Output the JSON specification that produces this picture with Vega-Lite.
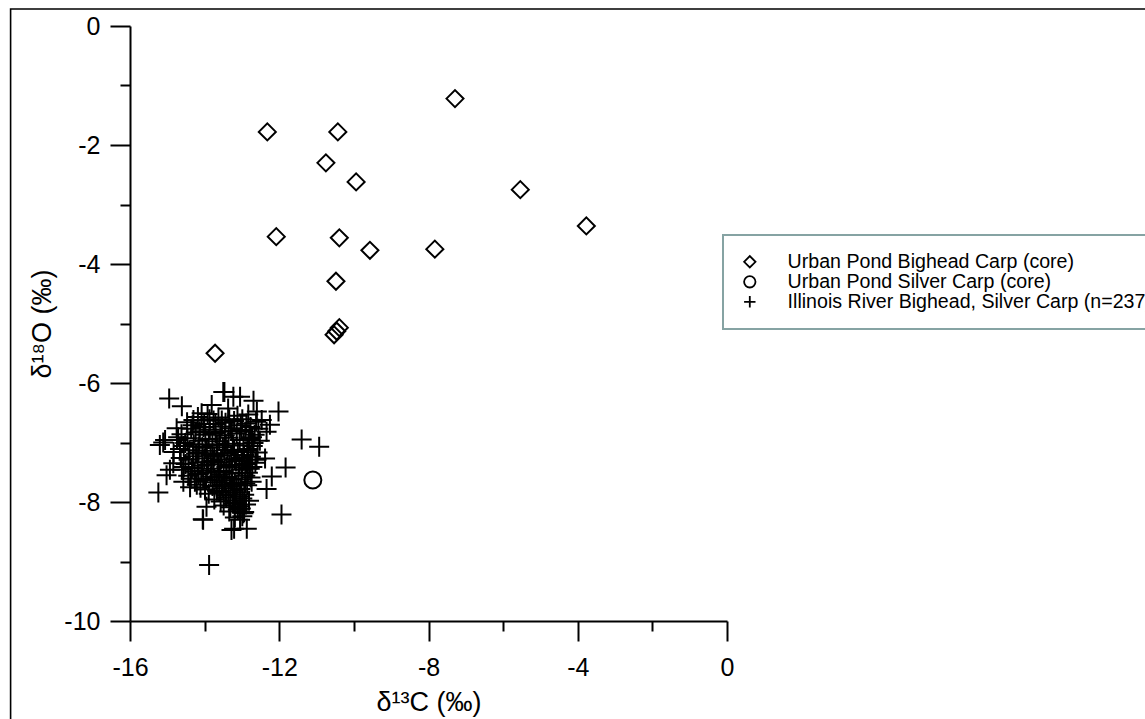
{
"$schema": "https://vega.github.io/schema/vega-lite/v6.json",
"width": 597,
"height": 595,
"autosize": {"type": "none"},
"padding": {"left": 130, "top": 26, "right": 418, "bottom": 98},
"background": "white",
"config": {
  "view": {"stroke": null},
  "font": "Liberation Sans",
  "legend": {"strokeColor": "#86a3a3", "strokeWidth": 2, "padding": 17, "labelFontSize": 19.6, "labelColor": "black", "labelOffset": 28, "labelLimit": 1000, "symbolSize": 130, "symbolStrokeWidth": 1.8, "symbolStrokeColor": "black", "symbolFillColor": "transparent", "symbolOpacity": 1}
},
"data": {"values": [
{"group":"Urban Pond Bighead Carp (core)","d13C":-7.29,"d18O":-1.22},
{"group":"Urban Pond Bighead Carp (core)","d13C":-12.32,"d18O":-1.78},
{"group":"Urban Pond Bighead Carp (core)","d13C":-10.43,"d18O":-1.78},
{"group":"Urban Pond Bighead Carp (core)","d13C":-10.75,"d18O":-2.30},
{"group":"Urban Pond Bighead Carp (core)","d13C":-9.94,"d18O":-2.62},
{"group":"Urban Pond Bighead Carp (core)","d13C":-5.54,"d18O":-2.75},
{"group":"Urban Pond Bighead Carp (core)","d13C":-3.77,"d18O":-3.36},
{"group":"Urban Pond Bighead Carp (core)","d13C":-12.08,"d18O":-3.54},
{"group":"Urban Pond Bighead Carp (core)","d13C":-10.39,"d18O":-3.56},
{"group":"Urban Pond Bighead Carp (core)","d13C":-9.57,"d18O":-3.77},
{"group":"Urban Pond Bighead Carp (core)","d13C":-7.83,"d18O":-3.75},
{"group":"Urban Pond Bighead Carp (core)","d13C":-10.48,"d18O":-4.29},
{"group":"Urban Pond Bighead Carp (core)","d13C":-10.39,"d18O":-5.07},
{"group":"Urban Pond Bighead Carp (core)","d13C":-10.46,"d18O":-5.13},
{"group":"Urban Pond Bighead Carp (core)","d13C":-10.53,"d18O":-5.19},
{"group":"Urban Pond Bighead Carp (core)","d13C":-13.72,"d18O":-5.50},
{"group":"Urban Pond Silver Carp (core)","d13C":-11.10,"d18O":-7.63},
{"group":"Illinois River Bighead, Silver Carp (n=237)","d13C":-14.95,"d18O":-6.26},
{"group":"Illinois River Bighead, Silver Carp (n=237)","d13C":-14.61,"d18O":-6.39},
{"group":"Illinois River Bighead, Silver Carp (n=237)","d13C":-13.47,"d18O":-6.15},
{"group":"Illinois River Bighead, Silver Carp (n=237)","d13C":-13.05,"d18O":-6.23},
{"group":"Illinois River Bighead, Silver Carp (n=237)","d13C":-12.69,"d18O":-6.30},
{"group":"Illinois River Bighead, Silver Carp (n=237)","d13C":-12.02,"d18O":-6.48},
{"group":"Illinois River Bighead, Silver Carp (n=237)","d13C":-12.25,"d18O":-6.70},
{"group":"Illinois River Bighead, Silver Carp (n=237)","d13C":-11.40,"d18O":-6.95},
{"group":"Illinois River Bighead, Silver Carp (n=237)","d13C":-10.93,"d18O":-7.07},
{"group":"Illinois River Bighead, Silver Carp (n=237)","d13C":-11.83,"d18O":-7.42},
{"group":"Illinois River Bighead, Silver Carp (n=237)","d13C":-15.11,"d18O":-7.00},
{"group":"Illinois River Bighead, Silver Carp (n=237)","d13C":-15.24,"d18O":-7.84},
{"group":"Illinois River Bighead, Silver Carp (n=237)","d13C":-11.94,"d18O":-8.21},
{"group":"Illinois River Bighead, Silver Carp (n=237)","d13C":-13.88,"d18O":-9.06},
{"group":"Illinois River Bighead, Silver Carp (n=237)","d13C":-14.05,"d18O":-8.29},
{"group":"Illinois River Bighead, Silver Carp (n=237)","d13C":-13.21,"d18O":-8.45},
{"group":"Illinois River Bighead, Silver Carp (n=237)","d13C":-12.87,"d18O":-8.45},
{"group":"Illinois River Bighead, Silver Carp (n=237)","d13C":-12.20,"d18O":-7.57},
{"group":"Illinois River Bighead, Silver Carp (n=237)","d13C":-12.34,"d18O":-7.78},
{"group":"Illinois River Bighead, Silver Carp (n=237)","d13C":-14.93,"d18O":-7.46},
{"group":"Illinois River Bighead, Silver Carp (n=237)","d13C":-15.02,"d18O":-7.55},
{"group":"Illinois River Bighead, Silver Carp (n=237)","d13C":-14.39,"d18O":-7.75},
{"group":"Illinois River Bighead, Silver Carp (n=237)","d13C":-13.95,"d18O":-8.08},
{"group":"Illinois River Bighead, Silver Carp (n=237)","d13C":-12.96,"d18O":-8.19},
{"group":"Illinois River Bighead, Silver Carp (n=237)","d13C":-13.05,"d18O":-8.30},
{"group":"Illinois River Bighead, Silver Carp (n=237)","d13C":-13.23,"d18O":-6.23},
{"group":"Illinois River Bighead, Silver Carp (n=237)","d13C":-13.50,"d18O":-6.15},
{"group":"Illinois River Bighead, Silver Carp (n=237)","d13C":-14.08,"d18O":-6.51},
{"group":"Illinois River Bighead, Silver Carp (n=237)","d13C":-13.81,"d18O":-6.37},
{"group":"Illinois River Bighead, Silver Carp (n=237)","d13C":-13.37,"d18O":-6.43},
{"group":"Illinois River Bighead, Silver Carp (n=237)","d13C":-14.30,"d18O":-6.62},
{"group":"Illinois River Bighead, Silver Carp (n=237)","d13C":-14.75,"d18O":-6.76},
{"group":"Illinois River Bighead, Silver Carp (n=237)","d13C":-15.06,"d18O":-6.96},
{"group":"Illinois River Bighead, Silver Carp (n=237)","d13C":-15.20,"d18O":-7.04},
{"group":"Illinois River Bighead, Silver Carp (n=237)","d13C":-12.60,"d18O":-6.48},
{"group":"Illinois River Bighead, Silver Carp (n=237)","d13C":-12.47,"d18O":-6.62},
{"group":"Illinois River Bighead, Silver Carp (n=237)","d13C":-12.34,"d18O":-6.82},
{"group":"Illinois River Bighead, Silver Carp (n=237)","d13C":-14.84,"d18O":-7.35},
{"group":"Illinois River Bighead, Silver Carp (n=237)","d13C":-14.57,"d18O":-7.66},
{"group":"Illinois River Bighead, Silver Carp (n=237)","d13C":-14.04,"d18O":-8.30},
{"group":"Illinois River Bighead, Silver Carp (n=237)","d13C":-13.28,"d18O":-8.47},
{"group":"Illinois River Bighead, Silver Carp (n=237)","d13C":-12.38,"d18O":-7.27},
{"group":"Illinois River Bighead, Silver Carp (n=237)","d13C":-14.18,"d18O":-6.57},
{"group":"Illinois River Bighead, Silver Carp (n=237)","d13C":-13.92,"d18O":-6.52},
{"group":"Illinois River Bighead, Silver Carp (n=237)","d13C":-13.63,"d18O":-6.58},
{"group":"Illinois River Bighead, Silver Carp (n=237)","d13C":-13.12,"d18O":-6.55},
{"group":"Illinois River Bighead, Silver Carp (n=237)","d13C":-12.83,"d18O":-6.53},
{"group":"Illinois River Bighead, Silver Carp (n=237)","d13C":-14.47,"d18O":-6.66},
{"group":"Illinois River Bighead, Silver Carp (n=237)","d13C":-13.76,"d18O":-6.63},
{"group":"Illinois River Bighead, Silver Carp (n=237)","d13C":-13.44,"d18O":-6.67},
{"group":"Illinois River Bighead, Silver Carp (n=237)","d13C":-13.21,"d18O":-6.64},
{"group":"Illinois River Bighead, Silver Carp (n=237)","d13C":-12.88,"d18O":-6.68},
{"group":"Illinois River Bighead, Silver Carp (n=237)","d13C":-12.62,"d18O":-6.65},
{"group":"Illinois River Bighead, Silver Carp (n=237)","d13C":-14.36,"d18O":-6.77},
{"group":"Illinois River Bighead, Silver Carp (n=237)","d13C":-14.03,"d18O":-6.74},
{"group":"Illinois River Bighead, Silver Carp (n=237)","d13C":-13.86,"d18O":-6.78},
{"group":"Illinois River Bighead, Silver Carp (n=237)","d13C":-13.54,"d18O":-6.73},
{"group":"Illinois River Bighead, Silver Carp (n=237)","d13C":-13.31,"d18O":-6.76},
{"group":"Illinois River Bighead, Silver Carp (n=237)","d13C":-13.02,"d18O":-6.79},
{"group":"Illinois River Bighead, Silver Carp (n=237)","d13C":-12.77,"d18O":-6.74},
{"group":"Illinois River Bighead, Silver Carp (n=237)","d13C":-12.56,"d18O":-6.77},
{"group":"Illinois River Bighead, Silver Carp (n=237)","d13C":-14.62,"d18O":-6.86},
{"group":"Illinois River Bighead, Silver Carp (n=237)","d13C":-14.24,"d18O":-6.83},
{"group":"Illinois River Bighead, Silver Carp (n=237)","d13C":-13.98,"d18O":-6.87},
{"group":"Illinois River Bighead, Silver Carp (n=237)","d13C":-13.71,"d18O":-6.84},
{"group":"Illinois River Bighead, Silver Carp (n=237)","d13C":-13.46,"d18O":-6.88},
{"group":"Illinois River Bighead, Silver Carp (n=237)","d13C":-13.14,"d18O":-6.85},
{"group":"Illinois River Bighead, Silver Carp (n=237)","d13C":-12.91,"d18O":-6.82},
{"group":"Illinois River Bighead, Silver Carp (n=237)","d13C":-12.66,"d18O":-6.87},
{"group":"Illinois River Bighead, Silver Carp (n=237)","d13C":-14.74,"d18O":-6.96},
{"group":"Illinois River Bighead, Silver Carp (n=237)","d13C":-14.46,"d18O":-6.93},
{"group":"Illinois River Bighead, Silver Carp (n=237)","d13C":-14.14,"d18O":-6.97},
{"group":"Illinois River Bighead, Silver Carp (n=237)","d13C":-13.89,"d18O":-6.94},
{"group":"Illinois River Bighead, Silver Carp (n=237)","d13C":-13.61,"d18O":-6.98},
{"group":"Illinois River Bighead, Silver Carp (n=237)","d13C":-13.36,"d18O":-6.92},
{"group":"Illinois River Bighead, Silver Carp (n=237)","d13C":-13.06,"d18O":-6.96},
{"group":"Illinois River Bighead, Silver Carp (n=237)","d13C":-12.81,"d18O":-6.94},
{"group":"Illinois River Bighead, Silver Carp (n=237)","d13C":-12.52,"d18O":-6.97},
{"group":"Illinois River Bighead, Silver Carp (n=237)","d13C":-14.56,"d18O":-7.06},
{"group":"Illinois River Bighead, Silver Carp (n=237)","d13C":-14.29,"d18O":-7.03},
{"group":"Illinois River Bighead, Silver Carp (n=237)","d13C":-14.06,"d18O":-7.07},
{"group":"Illinois River Bighead, Silver Carp (n=237)","d13C":-13.79,"d18O":-7.04},
{"group":"Illinois River Bighead, Silver Carp (n=237)","d13C":-13.51,"d18O":-7.08},
{"group":"Illinois River Bighead, Silver Carp (n=237)","d13C":-13.24,"d18O":-7.05},
{"group":"Illinois River Bighead, Silver Carp (n=237)","d13C":-12.96,"d18O":-7.02},
{"group":"Illinois River Bighead, Silver Carp (n=237)","d13C":-12.71,"d18O":-7.06},
{"group":"Illinois River Bighead, Silver Carp (n=237)","d13C":-14.83,"d18O":-7.16},
{"group":"Illinois River Bighead, Silver Carp (n=237)","d13C":-14.41,"d18O":-7.13},
{"group":"Illinois River Bighead, Silver Carp (n=237)","d13C":-14.16,"d18O":-7.17},
{"group":"Illinois River Bighead, Silver Carp (n=237)","d13C":-13.94,"d18O":-7.14},
{"group":"Illinois River Bighead, Silver Carp (n=237)","d13C":-13.66,"d18O":-7.18},
{"group":"Illinois River Bighead, Silver Carp (n=237)","d13C":-13.39,"d18O":-7.12},
{"group":"Illinois River Bighead, Silver Carp (n=237)","d13C":-13.11,"d18O":-7.16},
{"group":"Illinois River Bighead, Silver Carp (n=237)","d13C":-12.86,"d18O":-7.14},
{"group":"Illinois River Bighead, Silver Carp (n=237)","d13C":-12.58,"d18O":-7.17},
{"group":"Illinois River Bighead, Silver Carp (n=237)","d13C":-14.64,"d18O":-7.26},
{"group":"Illinois River Bighead, Silver Carp (n=237)","d13C":-14.31,"d18O":-7.23},
{"group":"Illinois River Bighead, Silver Carp (n=237)","d13C":-14.01,"d18O":-7.27},
{"group":"Illinois River Bighead, Silver Carp (n=237)","d13C":-13.74,"d18O":-7.24},
{"group":"Illinois River Bighead, Silver Carp (n=237)","d13C":-13.56,"d18O":-7.28},
{"group":"Illinois River Bighead, Silver Carp (n=237)","d13C":-13.29,"d18O":-7.22},
{"group":"Illinois River Bighead, Silver Carp (n=237)","d13C":-13.01,"d18O":-7.26},
{"group":"Illinois River Bighead, Silver Carp (n=237)","d13C":-12.76,"d18O":-7.24},
{"group":"Illinois River Bighead, Silver Carp (n=237)","d13C":-14.51,"d18O":-7.36},
{"group":"Illinois River Bighead, Silver Carp (n=237)","d13C":-14.19,"d18O":-7.33},
{"group":"Illinois River Bighead, Silver Carp (n=237)","d13C":-13.91,"d18O":-7.37},
{"group":"Illinois River Bighead, Silver Carp (n=237)","d13C":-13.62,"d18O":-7.34},
{"group":"Illinois River Bighead, Silver Carp (n=237)","d13C":-13.34,"d18O":-7.38},
{"group":"Illinois River Bighead, Silver Carp (n=237)","d13C":-13.16,"d18O":-7.32},
{"group":"Illinois River Bighead, Silver Carp (n=237)","d13C":-12.89,"d18O":-7.36},
{"group":"Illinois River Bighead, Silver Carp (n=237)","d13C":-12.64,"d18O":-7.34},
{"group":"Illinois River Bighead, Silver Carp (n=237)","d13C":-14.61,"d18O":-7.46},
{"group":"Illinois River Bighead, Silver Carp (n=237)","d13C":-14.34,"d18O":-7.43},
{"group":"Illinois River Bighead, Silver Carp (n=237)","d13C":-14.09,"d18O":-7.47},
{"group":"Illinois River Bighead, Silver Carp (n=237)","d13C":-13.81,"d18O":-7.44},
{"group":"Illinois River Bighead, Silver Carp (n=237)","d13C":-13.49,"d18O":-7.48},
{"group":"Illinois River Bighead, Silver Carp (n=237)","d13C":-13.26,"d18O":-7.42},
{"group":"Illinois River Bighead, Silver Carp (n=237)","d13C":-12.99,"d18O":-7.46},
{"group":"Illinois River Bighead, Silver Carp (n=237)","d13C":-12.79,"d18O":-7.44},
{"group":"Illinois River Bighead, Silver Carp (n=237)","d13C":-14.44,"d18O":-7.56},
{"group":"Illinois River Bighead, Silver Carp (n=237)","d13C":-14.16,"d18O":-7.53},
{"group":"Illinois River Bighead, Silver Carp (n=237)","d13C":-13.84,"d18O":-7.57},
{"group":"Illinois River Bighead, Silver Carp (n=237)","d13C":-13.59,"d18O":-7.54},
{"group":"Illinois River Bighead, Silver Carp (n=237)","d13C":-13.41,"d18O":-7.58},
{"group":"Illinois River Bighead, Silver Carp (n=237)","d13C":-13.09,"d18O":-7.52},
{"group":"Illinois River Bighead, Silver Carp (n=237)","d13C":-12.91,"d18O":-7.56},
{"group":"Illinois River Bighead, Silver Carp (n=237)","d13C":-14.26,"d18O":-7.66},
{"group":"Illinois River Bighead, Silver Carp (n=237)","d13C":-13.96,"d18O":-7.63},
{"group":"Illinois River Bighead, Silver Carp (n=237)","d13C":-13.69,"d18O":-7.67},
{"group":"Illinois River Bighead, Silver Carp (n=237)","d13C":-13.46,"d18O":-7.64},
{"group":"Illinois River Bighead, Silver Carp (n=237)","d13C":-13.19,"d18O":-7.68},
{"group":"Illinois River Bighead, Silver Carp (n=237)","d13C":-13.01,"d18O":-7.62},
{"group":"Illinois River Bighead, Silver Carp (n=237)","d13C":-12.74,"d18O":-7.66},
{"group":"Illinois River Bighead, Silver Carp (n=237)","d13C":-14.11,"d18O":-7.76},
{"group":"Illinois River Bighead, Silver Carp (n=237)","d13C":-13.79,"d18O":-7.73},
{"group":"Illinois River Bighead, Silver Carp (n=237)","d13C":-13.51,"d18O":-7.77},
{"group":"Illinois River Bighead, Silver Carp (n=237)","d13C":-13.31,"d18O":-7.74},
{"group":"Illinois River Bighead, Silver Carp (n=237)","d13C":-13.04,"d18O":-7.78},
{"group":"Illinois River Bighead, Silver Carp (n=237)","d13C":-12.86,"d18O":-7.72},
{"group":"Illinois River Bighead, Silver Carp (n=237)","d13C":-13.89,"d18O":-7.86},
{"group":"Illinois River Bighead, Silver Carp (n=237)","d13C":-13.61,"d18O":-7.83},
{"group":"Illinois River Bighead, Silver Carp (n=237)","d13C":-13.36,"d18O":-7.87},
{"group":"Illinois River Bighead, Silver Carp (n=237)","d13C":-13.14,"d18O":-7.84},
{"group":"Illinois River Bighead, Silver Carp (n=237)","d13C":-12.94,"d18O":-7.88},
{"group":"Illinois River Bighead, Silver Carp (n=237)","d13C":-13.74,"d18O":-7.96},
{"group":"Illinois River Bighead, Silver Carp (n=237)","d13C":-13.42,"d18O":-7.93},
{"group":"Illinois River Bighead, Silver Carp (n=237)","d13C":-13.21,"d18O":-7.97},
{"group":"Illinois River Bighead, Silver Carp (n=237)","d13C":-12.99,"d18O":-7.94},
{"group":"Illinois River Bighead, Silver Carp (n=237)","d13C":-12.81,"d18O":-7.98},
{"group":"Illinois River Bighead, Silver Carp (n=237)","d13C":-13.49,"d18O":-8.06},
{"group":"Illinois River Bighead, Silver Carp (n=237)","d13C":-13.24,"d18O":-8.03},
{"group":"Illinois River Bighead, Silver Carp (n=237)","d13C":-13.06,"d18O":-8.07},
{"group":"Illinois River Bighead, Silver Carp (n=237)","d13C":-12.89,"d18O":-8.04},
{"group":"Illinois River Bighead, Silver Carp (n=237)","d13C":-13.34,"d18O":-8.16},
{"group":"Illinois River Bighead, Silver Carp (n=237)","d13C":-13.11,"d18O":-8.13},
{"group":"Illinois River Bighead, Silver Carp (n=237)","d13C":-12.94,"d18O":-8.17},
{"group":"Illinois River Bighead, Silver Carp (n=237)","d13C":-13.19,"d18O":-8.26},
{"group":"Illinois River Bighead, Silver Carp (n=237)","d13C":-12.99,"d18O":-8.24},
{"group":"Illinois River Bighead, Silver Carp (n=237)","d13C":-14.32,"d18O":-6.71},
{"group":"Illinois River Bighead, Silver Carp (n=237)","d13C":-13.71,"d18O":-6.69},
{"group":"Illinois River Bighead, Silver Carp (n=237)","d13C":-13.27,"d18O":-6.81},
{"group":"Illinois River Bighead, Silver Carp (n=237)","d13C":-12.73,"d18O":-6.91},
{"group":"Illinois River Bighead, Silver Carp (n=237)","d13C":-14.52,"d18O":-7.01},
{"group":"Illinois River Bighead, Silver Carp (n=237)","d13C":-13.97,"d18O":-7.09},
{"group":"Illinois River Bighead, Silver Carp (n=237)","d13C":-13.43,"d18O":-7.02},
{"group":"Illinois River Bighead, Silver Carp (n=237)","d13C":-12.83,"d18O":-7.11},
{"group":"Illinois River Bighead, Silver Carp (n=237)","d13C":-14.23,"d18O":-7.19},
{"group":"Illinois River Bighead, Silver Carp (n=237)","d13C":-13.84,"d18O":-7.21},
{"group":"Illinois River Bighead, Silver Carp (n=237)","d13C":-13.47,"d18O":-7.19},
{"group":"Illinois River Bighead, Silver Carp (n=237)","d13C":-13.19,"d18O":-7.29},
{"group":"Illinois River Bighead, Silver Carp (n=237)","d13C":-12.94,"d18O":-7.21},
{"group":"Illinois River Bighead, Silver Carp (n=237)","d13C":-14.43,"d18O":-7.29},
{"group":"Illinois River Bighead, Silver Carp (n=237)","d13C":-14.06,"d18O":-7.39},
{"group":"Illinois River Bighead, Silver Carp (n=237)","d13C":-13.77,"d18O":-7.31},
{"group":"Illinois River Bighead, Silver Carp (n=237)","d13C":-13.42,"d18O":-7.41},
{"group":"Illinois River Bighead, Silver Carp (n=237)","d13C":-13.07,"d18O":-7.39},
{"group":"Illinois River Bighead, Silver Carp (n=237)","d13C":-12.72,"d18O":-7.41},
{"group":"Illinois River Bighead, Silver Carp (n=237)","d13C":-14.27,"d18O":-7.49},
{"group":"Illinois River Bighead, Silver Carp (n=237)","d13C":-13.94,"d18O":-7.51},
{"group":"Illinois River Bighead, Silver Carp (n=237)","d13C":-13.64,"d18O":-7.49},
{"group":"Illinois River Bighead, Silver Carp (n=237)","d13C":-13.33,"d18O":-7.51},
{"group":"Illinois River Bighead, Silver Carp (n=237)","d13C":-12.84,"d18O":-7.51},
{"group":"Illinois River Bighead, Silver Carp (n=237)","d13C":-14.04,"d18O":-7.61},
{"group":"Illinois River Bighead, Silver Carp (n=237)","d13C":-13.74,"d18O":-7.59},
{"group":"Illinois River Bighead, Silver Carp (n=237)","d13C":-13.54,"d18O":-7.71},
{"group":"Illinois River Bighead, Silver Carp (n=237)","d13C":-13.27,"d18O":-7.61},
{"group":"Illinois River Bighead, Silver Carp (n=237)","d13C":-13.14,"d18O":-7.71},
{"group":"Illinois River Bighead, Silver Carp (n=237)","d13C":-12.91,"d18O":-7.69},
{"group":"Illinois River Bighead, Silver Carp (n=237)","d13C":-13.67,"d18O":-7.81},
{"group":"Illinois River Bighead, Silver Carp (n=237)","d13C":-13.44,"d18O":-7.89},
{"group":"Illinois River Bighead, Silver Carp (n=237)","d13C":-13.24,"d18O":-7.81},
{"group":"Illinois River Bighead, Silver Carp (n=237)","d13C":-13.07,"d18O":-7.91},
{"group":"Illinois River Bighead, Silver Carp (n=237)","d13C":-13.57,"d18O":-7.99},
{"group":"Illinois River Bighead, Silver Carp (n=237)","d13C":-13.31,"d18O":-8.09},
{"group":"Illinois River Bighead, Silver Carp (n=237)","d13C":-13.17,"d18O":-8.01},
{"group":"Illinois River Bighead, Silver Carp (n=237)","d13C":-13.03,"d18O":-8.11},
{"group":"Illinois River Bighead, Silver Carp (n=237)","d13C":-14.66,"d18O":-7.11},
{"group":"Illinois River Bighead, Silver Carp (n=237)","d13C":-14.71,"d18O":-6.91},
{"group":"Illinois River Bighead, Silver Carp (n=237)","d13C":-14.13,"d18O":-6.81},
{"group":"Illinois River Bighead, Silver Carp (n=237)","d13C":-13.58,"d18O":-6.81},
{"group":"Illinois River Bighead, Silver Carp (n=237)","d13C":-13.03,"d18O":-6.71},
{"group":"Illinois River Bighead, Silver Carp (n=237)","d13C":-12.69,"d18O":-7.01},
{"group":"Illinois River Bighead, Silver Carp (n=237)","d13C":-12.61,"d18O":-7.29},
{"group":"Illinois River Bighead, Silver Carp (n=237)","d13C":-14.17,"d18O":-7.07},
{"group":"Illinois River Bighead, Silver Carp (n=237)","d13C":-13.67,"d18O":-7.03},
{"group":"Illinois River Bighead, Silver Carp (n=237)","d13C":-13.21,"d18O":-7.13},
{"group":"Illinois River Bighead, Silver Carp (n=237)","d13C":-12.98,"d18O":-7.31},
{"group":"Illinois River Bighead, Silver Carp (n=237)","d13C":-14.37,"d18O":-7.61},
{"group":"Illinois River Bighead, Silver Carp (n=237)","d13C":-14.21,"d18O":-7.71},
{"group":"Illinois River Bighead, Silver Carp (n=237)","d13C":-13.99,"d18O":-7.79},
{"group":"Illinois River Bighead, Silver Carp (n=237)","d13C":-12.77,"d18O":-7.59},
{"group":"Illinois River Bighead, Silver Carp (n=237)","d13C":-13.87,"d18O":-6.61},
{"group":"Illinois River Bighead, Silver Carp (n=237)","d13C":-13.34,"d18O":-6.61},
{"group":"Illinois River Bighead, Silver Carp (n=237)","d13C":-14.56,"d18O":-7.41},
{"group":"Illinois River Bighead, Silver Carp (n=237)","d13C":-13.54,"d18O":-6.63},
{"group":"Illinois River Bighead, Silver Carp (n=237)","d13C":-12.99,"d18O":-6.61},
{"group":"Illinois River Bighead, Silver Carp (n=237)","d13C":-14.01,"d18O":-6.69}
]},
"layer": [
  {
    "data": {"values": [{}]},
    "mark": {"type": "rect", "fillOpacity": 0, "stroke": "black", "strokeWidth": 1.6, "clip": false},
    "encoding": {
      "x": {"datum": -19.2, "type": "quantitative"},
      "x2": {"datum": 12},
      "y": {"datum": 0.285, "type": "quantitative"},
      "y2": {"datum": -11.9}
    }
  },
  {
    "transform": [{"filter": "datum.group !== 'Illinois River Bighead, Silver Carp (n=237)'"}],
    "mark": {"type": "point", "filled": false, "color": "black", "opacity": 1, "strokeWidth": 2, "size": 290},
    "encoding": {
      "x": {"field": "d13C", "type": "quantitative", "scale": {"domain": [-16, 0], "nice": false, "zero": false},
        "axis": {"values": [-16,-14,-12,-10,-8,-6,-4,-2,0], "labelExpr": "datum.value % 4 === 0 ? '' + datum.value : ''", "tickSize": {"condition": {"test": "datum.value % 4 === 0", "value": 20}, "value": 10}, "title": "δ¹³C (‰)", "grid": false, "domainColor": "black", "domainWidth": 2, "tickColor": "black", "tickWidth": 2, "labelFontSize": 25, "labelColor": "black", "labelPadding": 14, "labelFlush": false, "labelOverlap": false, "titleFontSize": 27, "titleFontWeight": "normal", "titleColor": "black", "titlePadding": 9}},
      "y": {"field": "d18O", "type": "quantitative", "scale": {"domain": [-10, 0], "nice": false, "zero": false},
        "axis": {"values": [-10,-9,-8,-7,-6,-5,-4,-3,-2,-1,0], "labelExpr": "datum.value % 2 === 0 ? '' + datum.value : ''", "tickSize": {"condition": {"test": "datum.value % 2 === 0", "value": 20}, "value": 10}, "title": "δ¹⁸O (‰)", "grid": false, "domainColor": "black", "domainWidth": 2, "tickColor": "black", "tickWidth": 2, "labelFontSize": 25, "labelColor": "black", "labelPadding": 10, "labelFlush": false, "labelOverlap": false, "titleFontSize": 27, "titleFontWeight": "normal", "titleColor": "black", "titlePadding": 7}},
      "shape": {"field": "group", "type": "nominal",
        "scale": {"domain": ["Urban Pond Bighead Carp (core)", "Urban Pond Silver Carp (core)", "Illinois River Bighead, Silver Carp (n=237)"], "range": ["diamond", "circle", "M-1,0H1M0,-1V1"]},
        "legend": {"title": null, "orient": "none", "legendX": 593, "legendY": 209, "rowPadding": -3}}
    }
  },
  {
    "transform": [{"filter": "datum.group === 'Illinois River Bighead, Silver Carp (n=237)'"}],
    "mark": {"type": "point", "filled": false, "color": "black", "opacity": 1, "strokeWidth": 2, "size": 400},
    "encoding": {
      "x": {"field": "d13C", "type": "quantitative"},
      "y": {"field": "d18O", "type": "quantitative"},
      "shape": {"field": "group", "type": "nominal"}
    }
  }
]
}
